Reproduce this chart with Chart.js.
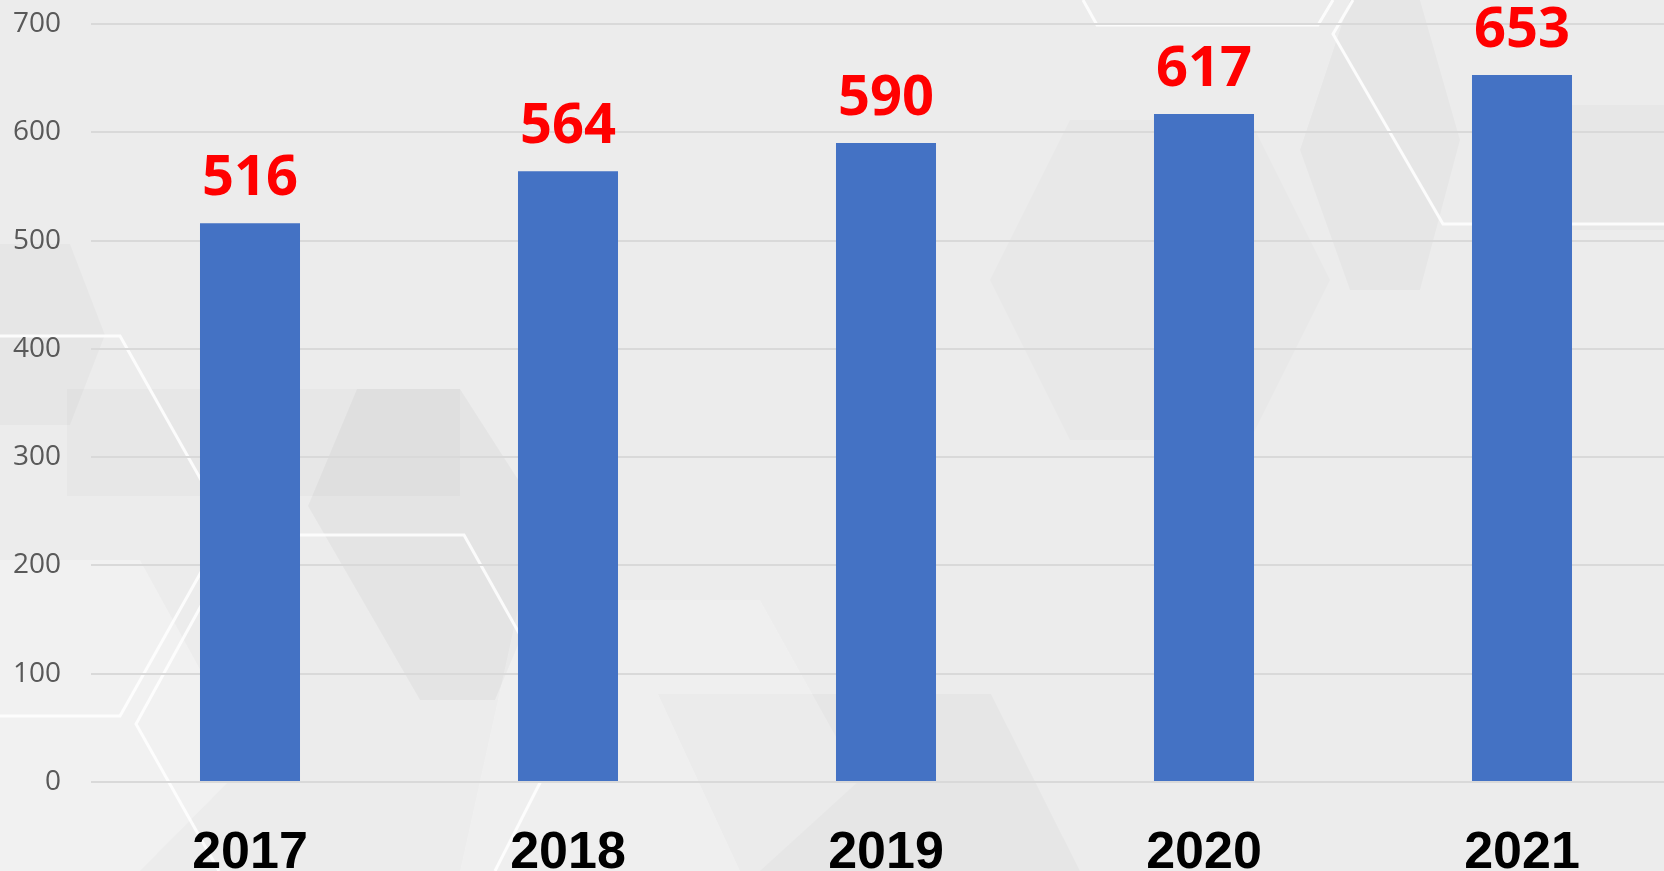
<!DOCTYPE html>
<html>
<head>
<meta charset="utf-8">
<script src="https://cdn.jsdelivr.net/npm/chart.js@4"></script>
<style>
  html, body { margin: 0; padding: 0; overflow: hidden; background: #ececec; }
  #wrap { width: 1681px; height: 871px; }
</style>
</head>
<body>
<div id="wrap"><canvas id="chart" width="1681" height="871"></canvas></div>
<script>
// --- Data ---
const years = ["2017", "2018", "2019", "2020", "2021"];
const values = [516, 564, 590, 617, 653];
const yTicks = [0, 100, 200, 300, 400, 500, 600, 700];

// --- Background decoration (soft hexagons like the slide backdrop) ---
const shadeShapes = [
  { fill: "rgba(0,0,0,0.025)", pts: [[0,244],[70,244],[105,335],[70,425],[0,425]] },
  { fill: "rgba(0,0,0,0.02)", pts: [[67,389],[460,389],[460,496],[67,496]] },
  { fill: "rgba(0,0,0,0.03)", pts: [[357,389],[460,389],[560,545],[495,700],[420,700],[308,506]] },
  { fill: "rgba(255,255,255,0.25)", pts: [[0,560],[140,560],[250,760],[140,871],[0,871]] },
  { fill: "rgba(0,0,0,0.025)", pts: [[658,694],[991,694],[1080,871],[740,871]] },
  { fill: "rgba(255,255,255,0.2)", pts: [[520,600],[760,600],[860,780],[760,871],[460,871]] },
  { fill: "rgba(0,0,0,0.025)", pts: [[1350,0],[1420,0],[1460,140],[1420,290],[1350,290],[1300,150]] },
  { fill: "rgba(0,0,0,0.02)", pts: [[1570,105],[1664,105],[1664,230],[1540,230]] },
  { fill: "rgba(0,0,0,0.015)", pts: [[1070,120],[1250,120],[1330,280],[1250,440],[1070,440],[990,280]] }
];
const whiteLines = [
  [[0,336],[120,336],[227,526],[120,716],[0,716]],
  [[219,871],[136,724],[240,535],[464,535],[570,724],[495,871]],
  [[1083,0],[1097,25],[1318,25],[1333,0]],
  [[1353,0],[1333,34],[1443,224],[1664,224]]
];

const backdrop = {
  id: "backdrop",
  beforeDraw(chart) {
    const ctx = chart.ctx;
    ctx.save();
    ctx.fillStyle = "#ececec";
    ctx.fillRect(0, 0, chart.width, chart.height);
    shadeShapes.forEach(s => {
      ctx.beginPath();
      s.pts.forEach(([x, y], i) => i ? ctx.lineTo(x, y) : ctx.moveTo(x, y));
      ctx.closePath();
      ctx.fillStyle = s.fill;
      ctx.fill();
    });
    ctx.strokeStyle = "rgba(255,255,255,0.85)";
    ctx.lineWidth = 3;
    whiteLines.forEach(line => {
      ctx.beginPath();
      line.forEach(([x, y], i) => i ? ctx.lineTo(x, y) : ctx.moveTo(x, y));
      ctx.stroke();
    });
    ctx.restore();
  }
};

// --- Value labels above bars ---
const valueLabels = {
  id: "valueLabels",
  afterDatasetsDraw(chart) {
    const ctx = chart.ctx;
    const meta = chart.getDatasetMeta(0);
    ctx.save();
    ctx.fillStyle = "#ff0000";
    ctx.font = "bold 56px 'Open Sans'";
    ctx.textAlign = "center";
    ctx.textBaseline = "alphabetic";
    meta.data.forEach((bar, i) => {
      ctx.fillText(String(values[i]), bar.x, bar.y - 28);
    });
    ctx.restore();
  }
};

new Chart(document.getElementById("chart"), {
  type: "bar",
  data: {
    labels: years,
    datasets: [{
      data: values,
      backgroundColor: "#4472c4",
      categoryPercentage: 1,
      barPercentage: 0.3145
    }]
  },
  options: {
    responsive: false,
    animation: false,
    layout: { padding: { top: 24, left: 0, right: 0, bottom: 0 } },
    plugins: { legend: { display: false }, tooltip: { enabled: false } },
    scales: {
      x: {
        grid: { display: false },
        border: { display: false },
        ticks: {
          color: "#000",
          padding: 32,
          font: { family: "'Liberation Sans', Arial", size: 52, weight: "bold" }
        },
        afterFit(scale) {
          scale.height = 89;
          scale.paddingTop = 0;
        }
      },
      y: {
        min: 0,
        max: 700,
        afterBuildTicks(scale) { scale.ticks = yTicks.map(v => ({ value: v })); },
        grid: { color: "#d9d9d9", lineWidth: 2, drawTicks: false },
        border: { display: false },
        ticks: {
          color: "#595959",
          padding: 30,
          font: { family: "'Open Sans'", size: 28 }
        },
        afterFit(scale) {
          scale.width = 91;
          scale.paddingTop = 0;
          scale.paddingBottom = 0;
        }
      }
    }
  },
  plugins: [backdrop, valueLabels]
});
</script>
</body>
</html>
